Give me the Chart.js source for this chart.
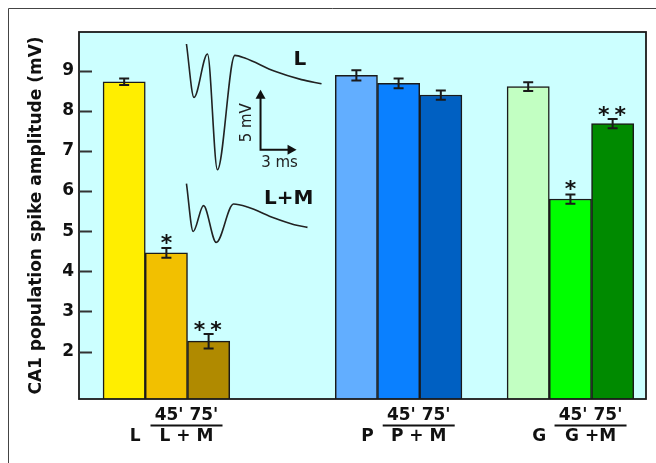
<!DOCTYPE html>
<html>
<head>
<meta charset="utf-8">
<script src="https://cdn.jsdelivr.net/npm/chart.js@4"></script>
<style>
  html, body { margin: 0; padding: 0; background: #fff; }
</style>
</head>
<body>
<canvas id="chart" width="656" height="463"></canvas>
<script>
// Groupes et conditions
const groups = ['L', 'P', 'G'];
const timeLabels = ["45'", "75'"];
const treatedLabels = ['L + M', 'P + M', 'G +M'];

// Amplitude du pic de population CA1 (mV) : contrôle, 45', 75'
const amplitudeL = [8.72, 4.46, 2.26];
const amplitudeP = [8.88, 8.68, 8.39];
const amplitudeG = [8.60, 5.80, 7.68];
// Erreur standard (mV)
const errorL = [0.08, 0.12, 0.18];
const errorP = [0.125, 0.12, 0.115];
const errorG = [0.11, 0.115, 0.115];
// Significativité
const starsL = ['', '*', '**'];
const starsP = ['', '', ''];
const starsG = ['', '*', '**'];

const yTicks = [2, 3, 4, 5, 6, 7, 8, 9];

// Tracés d'exemple (temps en ms, tension en mV)
const traceTimeL = [0, 0.63, 1.75, 2.58, 4.03, 4.86, 7.36, 9.58, 11.25];
const traceVoltL = [0, -4.45, -0.83, -10.48, -0.95, -1.17, -2.28, -2.97, -3.31];
const traceTimeLM = [0, 0.56, 1.42, 2.48, 3.92, 5.08, 7.31, 8.98, 10.08];
const traceVoltLM = [0, -3.98, -1.83, -4.89, -1.69, -1.94, -2.86, -3.42, -3.64];

// ---- mise en page / styles ----
const colorsL = ['#FFEE00', '#F2C000', '#B08A00'];
const colorsP = ['#62AEFF', '#0A80FF', '#0060C2'];
const colorsG = ['#C2FFC2', '#00FF00', '#008A00'];
const groupStart = [0, 5.5, 9.57];   // position des groupes en largeurs de barre
const traceShift = -11.64;           // décalage vertical du tracé L+M (mV)
const scaleBarAt = { t: 6.17, v: -8.81 };
const traceLabels = [
  { text: 'L', t: 9.44, v: -1.31 },
  { text: 'L+M', t: 8.51, v: -12.89 }
];
const FONT = 'DejaVu Sans';
Chart.defaults.font.family = FONT;

const amplitudes = [amplitudeL, amplitudeP, amplitudeG];
const errors = [errorL, errorP, errorG];
const stars = [starsL, starsP, starsG];
const colors = [colorsL, colorsP, colorsG];

const bars = [], barColors = [], barErr = [], barStars = [];
amplitudes.forEach((vals, g) => {
  vals.forEach((v, i) => {
    bars.push({ x: groupStart[g] + i, y: v });
    barColors.push(colors[g][i]);
    barErr.push(errors[g][i]);
    barStars.push(stars[g][i]);
  });
});

const decor = {
  id: 'decor',
  beforeDraw(chart) {
    const { ctx, chartArea: a } = chart;
    ctx.save();
    ctx.fillStyle = '#fff';
    ctx.fillRect(0, 0, chart.width, chart.height);
    ctx.fillStyle = '#CCFFFF';
    ctx.fillRect(a.left, a.top, a.right - a.left, a.bottom - a.top);
    ctx.restore();
  },
  afterDatasetsDraw(chart) {
    const { ctx, chartArea: a, scales } = chart;
    const y = scales.y, xi = scales.xi, yi = scales.yi;
    const meta = chart.getDatasetMeta(0);
    ctx.save();

    // barres d'erreur + étoiles
    ctx.strokeStyle = '#1a1a1a';
    ctx.fillStyle = '#111';
    ctx.lineWidth = 2;
    ctx.font = 'bold 22px ' + FONT;
    ctx.textAlign = 'center';
    ctx.textBaseline = 'alphabetic';
    meta.data.forEach((bar, i) => {
      const v = bars[i].y, e = barErr[i];
      const top = y.getPixelForValue(v + e), bot = y.getPixelForValue(v - e);
      ctx.beginPath();
      ctx.moveTo(bar.x, top); ctx.lineTo(bar.x, bot);
      ctx.moveTo(bar.x - 5, top); ctx.lineTo(bar.x + 5, top);
      ctx.moveTo(bar.x - 5, bot); ctx.lineTo(bar.x + 5, bot);
      ctx.stroke();
      if (barStars[i] === '*') {
        ctx.fillText('*', bar.x, top + 2);
      } else if (barStars[i] === '**') {
        ctx.fillText('*', bar.x - 9, top + 3);
        ctx.fillText('*', bar.x + 7.5, top + 3);
      }
    });

    // cadre de la zone de tracé
    ctx.strokeStyle = '#1a1a1a';
    ctx.lineWidth = 1.8;
    ctx.strokeRect(a.left, a.top, a.right - a.left, a.bottom - a.top);

    // graduations vers l'intérieur
    ctx.strokeStyle = '#333';
    ctx.lineWidth = 2;
    yTicks.forEach(t => {
      const py = Math.round(y.getPixelForValue(t)) + 0.5;
      ctx.beginPath();
      ctx.moveTo(a.left, py); ctx.lineTo(a.left + 13, py);
      ctx.stroke();
    });

    // barre d'échelle 5 mV / 3 ms
    const cx = xi.getPixelForValue(scaleBarAt.t), cy = yi.getPixelForValue(scaleBarAt.v);
    const tx = xi.getPixelForValue(scaleBarAt.t + 3), ty = yi.getPixelForValue(scaleBarAt.v + 5);
    ctx.strokeStyle = '#111';
    ctx.fillStyle = '#111';
    ctx.lineWidth = 2;
    ctx.beginPath();
    ctx.moveTo(cx, ty + 7); ctx.lineTo(cx, cy); ctx.lineTo(tx - 7, cy);
    ctx.stroke();
    ctx.beginPath();
    ctx.moveTo(cx, ty); ctx.lineTo(cx - 5, ty + 9); ctx.lineTo(cx + 5, ty + 9); ctx.closePath();
    ctx.fill();
    ctx.beginPath();
    ctx.moveTo(tx, cy); ctx.lineTo(tx - 9, cy - 5); ctx.lineTo(tx - 9, cy + 5); ctx.closePath();
    ctx.fill();

    ctx.fillStyle = '#222';
    ctx.font = '15px ' + FONT;
    ctx.textAlign = 'center';
    ctx.textBaseline = 'middle';
    ctx.fillText('3 ms', cx + 19, cy + 13);
    ctx.save();
    ctx.translate(cx - 13, cy - 27);
    ctx.rotate(-Math.PI / 2);
    ctx.fillText('5 mV', 0, 0);
    ctx.restore();

    ctx.fillStyle = '#111';
    ctx.font = 'bold 20px ' + FONT;
    traceLabels.forEach(l => {
      ctx.fillText(l.text, xi.getPixelForValue(l.t), yi.getPixelForValue(l.v));
    });
    ctx.restore();
  },
  afterDraw(chart) {
    const { ctx } = chart;
    const meta = chart.getDatasetMeta(0);
    ctx.save();
    ctx.fillStyle = '#111';
    ctx.strokeStyle = '#111';
    ctx.font = 'bold 17px ' + FONT;
    ctx.textAlign = 'center';
    ctx.textBaseline = 'middle';
    groups.forEach((g, k) => {
      const c0 = meta.data[k * 3].x, c1 = meta.data[k * 3 + 1].x, c2 = meta.data[k * 3 + 2].x;
      const m = (c1 + c2) / 2 - 1;
      ctx.fillText(g, c0 + 11, 437);
      ctx.fillText(timeLabels.join(' '), m, 416);
      ctx.fillText(treatedLabels[k], m, 437);
      ctx.lineWidth = 2;
      ctx.beginPath();
      ctx.moveTo(m - 36, 425.5); ctx.lineTo(m + 36, 425.5);
      ctx.stroke();
    });
    // cadre extérieur
    ctx.strokeStyle = '#444';
    ctx.lineWidth = 1;
    ctx.beginPath();
    ctx.moveTo(8.5, chart.height); ctx.lineTo(8.5, 8.5); ctx.lineTo(chart.width, 8.5);
    ctx.stroke();
    ctx.restore();
  }
};

const traceStyle = {
  type: 'line',
  xAxisID: 'xi',
  yAxisID: 'yi',
  borderColor: '#222',
  borderWidth: 1.6,
  pointRadius: 0,
  cubicInterpolationMode: 'monotone',
  fill: false
};

new Chart(document.getElementById('chart'), {
  type: 'bar',
  data: {
    datasets: [
      {
        data: bars,
        backgroundColor: barColors,
        borderColor: '#1a1a1a',
        borderWidth: 1.5,
        grouped: false,
        barPercentage: 1,
        categoryPercentage: 1
      },
      Object.assign({ data: traceTimeL.map((t, i) => ({ x: t, y: traceVoltL[i] })) }, traceStyle),
      Object.assign({ data: traceTimeLM.map((t, i) => ({ x: t, y: traceVoltLM[i] + traceShift })) }, traceStyle)
    ]
  },
  options: {
    responsive: false,
    animation: false,
    layout: { padding: { top: 32, right: 10, bottom: 64, left: 0 } },
    plugins: { legend: { display: false }, tooltip: { enabled: false } },
    scales: {
      x: {
        type: 'linear', display: false, offset: false, grid: { offset: false },
        min: -1.07, max: 12.36,
        afterBuildTicks: s => { s.ticks = [{ value: 0 }]; }
      },
      y: {
        min: 0.82, max: 9.96,
        afterBuildTicks: s => { s.ticks = yTicks.map(v => ({ value: v })); },
        afterFit: s => { s.width = 79; },
        grid: { display: false, drawTicks: false },
        border: { display: false },
        ticks: { font: { size: 17, weight: 'bold' }, color: '#111', padding: 5 },
        title: {
          display: true,
          text: 'CA1 population spike amplitude (mV)',
          font: { size: 17, weight: 'bold' },
          color: '#111',
          padding: { top: 26, bottom: 0 }
        }
      },
      xi: {
        type: 'linear', axis: 'x', display: false, offset: false, grid: { offset: false },
        min: -8.95, max: 38.275
      },
      yi: { type: 'linear', axis: 'y', display: false, min: -29.58, max: 1.0 }
    }
  },
  plugins: [decor]
});
</script>
</body>
</html>
